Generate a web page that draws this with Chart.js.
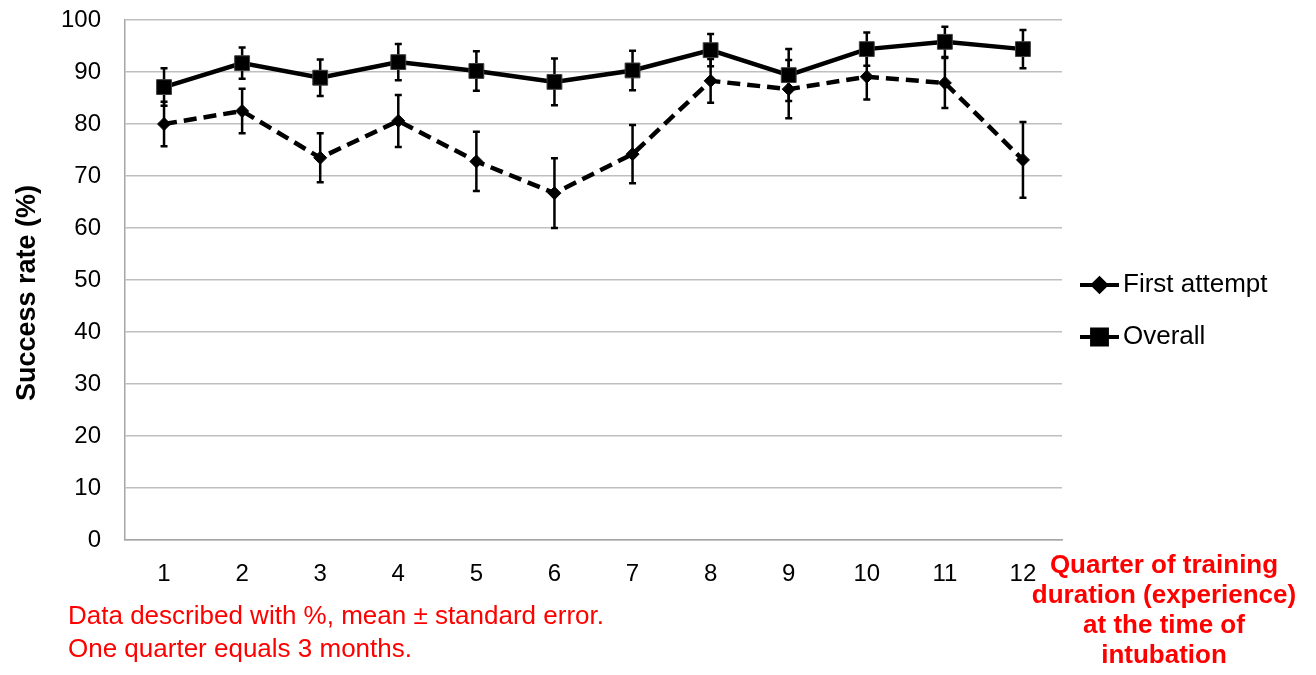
<!DOCTYPE html>
<html>
<head>
<meta charset="utf-8">
<script src="https://cdn.jsdelivr.net/npm/chart.js@4/dist/chart.umd.min.js"></script>
<style>
  html, body { margin: 0; padding: 0; background: #ffffff; }
  #wrap { width: 1316px; height: 675px; position: relative; }
</style>
</head>
<body>
<div id="wrap"><canvas id="c" width="1316" height="675"></canvas></div>
<script>
const quarters = ['1','2','3','4','5','6','7','8','9','10','11','12'];
const firstAttempt   = [80.0, 82.5, 73.5, 80.6, 72.8, 66.7, 74.2, 88.3, 86.7, 89.1, 87.9, 73.1];
const firstAttemptSE = [4.3, 4.3, 4.7, 5.0, 5.7, 6.7, 5.6, 4.2, 5.6, 4.4, 4.8, 7.3];
const overall   = [87.1, 91.7, 88.9, 91.9, 90.2, 88.1, 90.3, 94.2, 89.4, 94.4, 95.8, 94.4];
const overallSE = [3.6, 3.0, 3.5, 3.5, 3.8, 4.5, 3.8, 3.1, 5.0, 3.2, 2.9, 3.7];
const seriesNames = ['First attempt', 'Overall'];
const yTitle = 'Success rate (%)';
const xTitleLines = ['Quarter of training', 'duration (experience)', 'at the time of', 'intubation'];
const noteLines = ['Data described with %, mean \u00B1 standard error.', 'One quarter equals 3 months.'];

const FONT = '"Liberation Sans", Arial, sans-serif';

const errorBarPlugin = {
  id: 'errorBars',
  beforeDatasetDraw(chart, args) {
    const ds = chart.data.datasets[args.index];
    if (!ds.errors) return;
    const meta = args.meta;
    const y = chart.scales.y;
    const ctx = chart.ctx;
    ctx.save();
    ctx.strokeStyle = '#000';
    ctx.lineWidth = 2.5;
    meta.data.forEach((pt, i) => {
      const v = ds.data[i], e = ds.errors[i];
      const yt = y.getPixelForValue(v + e);
      const yb = y.getPixelForValue(v - e);
      const x = pt.x;
      ctx.beginPath();
      ctx.moveTo(x, yt); ctx.lineTo(x, yb);
      ctx.moveTo(x - 3.5, yt); ctx.lineTo(x + 3.5, yt);
      ctx.moveTo(x - 3.5, yb); ctx.lineTo(x + 3.5, yb);
      ctx.stroke();
    });
    ctx.restore();
  }
};

const extrasPlugin = {
  id: 'extras',
  afterDraw(chart) {
    const ctx = chart.ctx;
    ctx.save();
    // y-axis title
    ctx.save();
    ctx.translate(28, 293);
    ctx.rotate(-Math.PI / 2);
    ctx.fillStyle = '#000';
    ctx.font = 'bold 27px ' + FONT;
    ctx.textAlign = 'center';
    ctx.textBaseline = 'middle';
    ctx.fillText(yTitle, 0, 0);
    ctx.restore();
    // legend
    const items = [
      { ds: chart.data.datasets[0], y: 285 },
      { ds: chart.data.datasets[1], y: 337 }
    ];
    items.forEach(it => {
      ctx.strokeStyle = '#000';
      ctx.lineWidth = 4;
      ctx.setLineDash([]);
      ctx.beginPath();
      ctx.moveTo(1080, it.y); ctx.lineTo(1119, it.y);
      ctx.stroke();
      ctx.fillStyle = '#000';
      Chart.helpers.drawPoint(ctx, {
        pointStyle: it.ds.pointStyle,
        radius: it.ds.pointRadius,
        borderWidth: 1
      }, 1099.5, it.y);
      ctx.fillStyle = '#000';
      ctx.font = '26px ' + FONT;
      ctx.textAlign = 'left';
      ctx.textBaseline = 'middle';
      ctx.fillText(it.ds.label, 1123, it.y);
    });
    // red notes
    ctx.fillStyle = '#ff0000';
    ctx.textBaseline = 'alphabetic';
    ctx.font = '26px ' + FONT;
    ctx.textAlign = 'left';
    ctx.fillText(noteLines[0], 68, 624);
    ctx.fillText(noteLines[1], 68, 657);
    ctx.font = 'bold 26px ' + FONT;
    ctx.textAlign = 'center';
    const bl = [573, 603, 633, 663];
    xTitleLines.forEach((t, i) => ctx.fillText(t, 1164, bl[i]));
    ctx.restore();
  }
};

new Chart(document.getElementById('c'), {
  type: 'line',
  data: {
    labels: quarters,
    datasets: [
      {
        label: seriesNames[0],
        data: firstAttempt,
        errors: firstAttemptSE,
        borderColor: '#000',
        backgroundColor: '#000',
        borderWidth: 4.5,
        borderDash: [13, 7],
        pointStyle: 'rectRot',
        pointRadius: 6.5,
        pointBorderWidth: 1,
        pointBackgroundColor: '#000',
        pointBorderColor: '#000',
        tension: 0,
        order: 1
      },
      {
        label: seriesNames[1],
        data: overall,
        errors: overallSE,
        borderColor: '#000',
        backgroundColor: '#000',
        borderWidth: 4.5,
        pointStyle: 'rect',
        pointRadius: 10.5,
        pointBorderWidth: 1,
        pointBackgroundColor: '#000',
        pointBorderColor: '#404040',
        tension: 0,
        order: 0
      }
    ]
  },
  options: {
    responsive: false,
    animation: false,
    devicePixelRatio: 1,
    layout: { padding: { left: 0, right: 254, top: 20, bottom: 85 } },
    plugins: {
      legend: { display: false },
      tooltip: { enabled: false },
      title: { display: false }
    },
    scales: {
      x: {
        type: 'category',
        offset: true,
        grid: { display: false, drawTicks: false },
        border: { display: true, color: '#a6a6a6', width: 1.5 },
        ticks: { color: '#000', font: { family: FONT, size: 24 }, padding: 20, maxRotation: 0, autoSkip: false },
        afterFit(scale) { scale.height = 50; }
      },
      y: {
        min: 0, max: 100,
        grid: { color: '#bfbfbf', lineWidth: 1.5, drawTicks: false },
        border: { display: true, color: '#a6a6a6', width: 1.5 },
        ticks: { stepSize: 10, color: '#000', font: { family: FONT, size: 24 }, padding: 24 },
        title: { display: false },
        afterFit(scale) {
          scale.width = 125;
          scale.paddingTop = 0;
          scale.paddingBottom = 0;
        }
      }
    }
  },
  plugins: [errorBarPlugin, extrasPlugin]
});
</script>
</body>
</html>
